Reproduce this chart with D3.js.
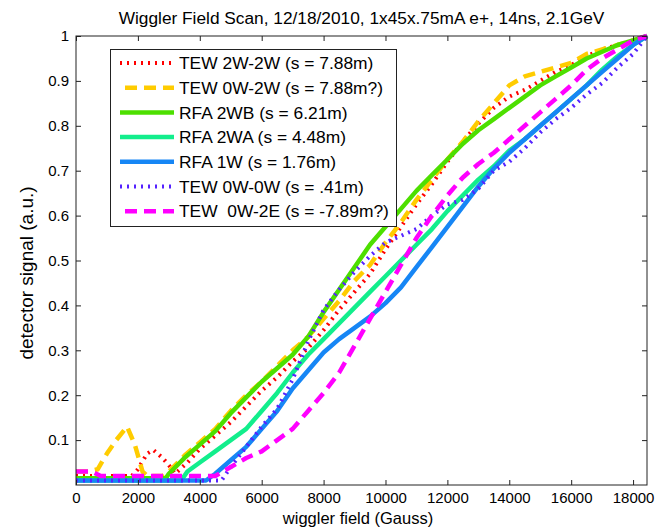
<!DOCTYPE html>
<html>
<head>
<meta charset="utf-8">
<script src="https://cdn.jsdelivr.net/npm/d3@7"></script>
<style>
  body { margin: 0; background: #fff; }
  text { font-family: "Liberation Sans", Arial, sans-serif; fill: #000; }
</style>
</head>
<body>
<div id="chart"></div>
<script>
// wiggler scan curves, field in Gauss / normalised detector signal
const tew2w2wField = [0, 500, 1000, 1500, 1800, 2000, 2300, 2500, 2800, 3050, 3200, 3600, 4000, 4500, 5000, 5500, 6000, 6500, 7000, 7500, 8000, 8500, 9000, 9500, 10000, 10500, 11000, 11500, 12000, 12500, 13000, 13500, 14000, 14500, 15000, 15500, 16000, 16500, 17000, 17500, 18000, 18450];
const tew2w2wSignal = [0.02, 0.02, 0.02, 0.02, 0.02, 0.035, 0.07, 0.078, 0.06, 0.04, 0.025, 0.05, 0.08, 0.11, 0.14, 0.175, 0.21, 0.24, 0.275, 0.305, 0.345, 0.39, 0.43, 0.47, 0.525, 0.575, 0.625, 0.67, 0.72, 0.765, 0.805, 0.84, 0.865, 0.88, 0.9, 0.92, 0.935, 0.955, 0.97, 0.98, 0.99, 1];

const tew0w2wField = [0, 400, 700, 1000, 1300, 1650, 1900, 2150, 2300, 2800, 3000, 3500, 4000, 4500, 5000, 5500, 6000, 6500, 7000, 7500, 8000, 8500, 9000, 9500, 10000, 10500, 11000, 11500, 12000, 12500, 13000, 13500, 14000, 14500, 15000, 15500, 16000, 16500, 17000, 17500, 18000, 18450];
const tew0w2wSignal = [0.03, 0.03, 0.035, 0.07, 0.1, 0.13, 0.09, 0.03, 0.02, 0.02, 0.03, 0.065, 0.095, 0.125, 0.165, 0.2, 0.23, 0.265, 0.3, 0.33, 0.37, 0.41, 0.455, 0.49, 0.54, 0.585, 0.635, 0.68, 0.725, 0.765, 0.81, 0.85, 0.89, 0.91, 0.92, 0.93, 0.94, 0.96, 0.97, 0.98, 0.99, 1];

const rfa2wbField = [0, 1000, 2000, 2900, 3000, 3500, 4000, 4500, 5000, 5500, 6000, 6500, 7000, 7500, 8000, 8500, 9000, 9500, 10000, 10500, 11000, 11500, 12000, 12500, 13000, 13500, 14000, 14500, 15000, 15500, 16000, 16500, 17000, 17500, 18000, 18450];
const rfa2wbSignal = [0.015, 0.015, 0.015, 0.015, 0.025, 0.06, 0.09, 0.12, 0.16, 0.195, 0.23, 0.26, 0.29, 0.33, 0.385, 0.435, 0.485, 0.535, 0.575, 0.615, 0.655, 0.69, 0.725, 0.76, 0.79, 0.815, 0.84, 0.865, 0.89, 0.91, 0.93, 0.95, 0.965, 0.98, 0.99, 1];

const rfa2waField = [0, 1000, 2000, 3000, 3400, 3600, 4000, 4500, 5000, 5500, 6000, 6500, 7000, 7500, 8000, 8500, 9000, 9500, 10000, 10500, 11000, 11500, 12000, 12500, 13000, 13500, 14000, 14500, 15000, 15500, 16000, 16500, 17000, 17500, 18000, 18450];
const rfa2waSignal = [0.01, 0.01, 0.01, 0.01, 0.01, 0.03, 0.05, 0.075, 0.1, 0.125, 0.165, 0.205, 0.25, 0.29, 0.325, 0.36, 0.395, 0.43, 0.465, 0.5, 0.535, 0.57, 0.61, 0.645, 0.68, 0.71, 0.745, 0.77, 0.8, 0.83, 0.86, 0.89, 0.925, 0.955, 0.98, 1];

const rfa1wField = [0, 1000, 2000, 3000, 4000, 4200, 4500, 5000, 5500, 6000, 6500, 7000, 7500, 8000, 8500, 9000, 9500, 10000, 10500, 11000, 11500, 12000, 12500, 13000, 13500, 14000, 14500, 15000, 15500, 16000, 16500, 17000, 17500, 18000, 18450];
const rfa1wSignal = [0.01, 0.01, 0.01, 0.01, 0.01, 0.01, 0.025, 0.055, 0.085, 0.125, 0.165, 0.215, 0.255, 0.295, 0.325, 0.35, 0.375, 0.405, 0.44, 0.485, 0.53, 0.575, 0.62, 0.665, 0.705, 0.74, 0.77, 0.8, 0.83, 0.86, 0.89, 0.92, 0.95, 0.98, 1];

const tew0w0wField = [0, 1000, 2000, 3000, 4000, 4700, 5000, 5500, 6000, 6500, 7000, 7500, 8000, 8500, 9000, 9500, 10000, 10500, 11000, 11500, 12000, 12500, 13000, 13500, 14000, 14500, 15000, 15500, 16000, 16500, 17000, 17500, 18000, 18450];
const tew0w0wSignal = [0.01, 0.01, 0.01, 0.01, 0.01, 0.01, 0.04, 0.085, 0.13, 0.17, 0.235, 0.32, 0.39, 0.435, 0.475, 0.51, 0.54, 0.555, 0.57, 0.6, 0.625, 0.635, 0.66, 0.7, 0.72, 0.75, 0.785, 0.815, 0.84, 0.87, 0.895, 0.93, 0.96, 1];

const tew0w2eField = [0, 500, 800, 1000, 2000, 3000, 4000, 4500, 5000, 5500, 6000, 6500, 7000, 7500, 8000, 8500, 9000, 9500, 10000, 10500, 11000, 11500, 12000, 12500, 13000, 13500, 14000, 14500, 15000, 15500, 16000, 16500, 17000, 17500, 18000, 18450];
const tew0w2eSignal = [0.03, 0.03, 0.02, 0.02, 0.02, 0.02, 0.02, 0.02, 0.04, 0.06, 0.075, 0.1, 0.125, 0.165, 0.205, 0.25, 0.31, 0.37, 0.43, 0.49, 0.55, 0.6, 0.645, 0.685, 0.715, 0.74, 0.77, 0.8, 0.83, 0.86, 0.89, 0.925, 0.95, 0.97, 0.99, 1];

const seriesNames = ["TEW 2W-2W (s = 7.88m)", "TEW 0W-2W (s = 7.88m?)", "RFA 2WB (s = 6.21m)", "RFA 2WA (s = 4.48m)", "RFA 1W (s = 1.76m)", "TEW 0W-0W (s = .41m)", "TEW  0W-2E (s = -7.89m?)"];
const xTicks = [0, 2000, 4000, 6000, 8000, 10000, 12000, 14000, 16000, 18000];
const yTicks = [0.1, 0.2, 0.3, 0.4, 0.5, 0.6, 0.7, 0.8, 0.9, 1];

const height = 532,
    width = 658,
    margin = ({top: 36, right: 11, bottom: 47, left: 76});

// matlab-ish line specs: r: , y-- , g- , etc.
const series = [
    {field: tew2w2wField, signal: tew2w2wSignal, color: "#ff0000", dash: "2,5", w: 4},
    {field: tew0w2wField, signal: tew0w2wSignal, color: "#ffcc00", dash: "12,7", w: 4.5},
    {field: rfa2wbField, signal: rfa2wbSignal, color: "#4ddf00", dash: null, w: 4.5},
    {field: rfa2waField, signal: rfa2waSignal, color: "#12ee8c", dash: null, w: 4.5},
    {field: rfa1wField, signal: rfa1wSignal, color: "#1686f5", dash: null, w: 4.5},
    {field: tew0w0wField, signal: tew0w0wSignal, color: "#5522ff", dash: "2,5", w: 4},
    {field: tew0w2eField, signal: tew0w2eSignal, color: "#ff00ff", dash: "12,7", w: 4.5}
].map((s, i) => ({...s, name: seriesNames[i], points: s.field.map((f, j) => [f, s.signal[j]])}));

let svg = d3.select("#chart").append("svg")
    .attr("width", width)
    .attr("height", height)
    .attr("viewBox", [0, 0, width, height]);

let x = d3.scaleLinear()
    .domain([0, 18450])
    .range([margin.left, width - margin.right]);

let y = d3.scaleLinear()
    .domain([0, 1])
    .range([height - margin.bottom, margin.top]);

const xAxis = g => g
    .attr("transform", `translate(0, ${height - margin.bottom})`)
    .call(d3.axisBottom(x).tickValues(xTicks).tickFormat(d3.format("d")).tickSizeInner(-5).tickSizeOuter(0).tickPadding(7))
    .call(g => g.select(".domain").remove());

const yAxis = g => g
    .attr("transform", `translate(${margin.left}, 0)`)
    .call(d3.axisLeft(y).tickValues(yTicks).tickFormat(d => String(+d.toFixed(1))).tickSizeInner(-5).tickSizeOuter(0).tickPadding(7))
    .call(g => g.select(".domain").remove());

// mirrored ticks on top and right, no labels
const xAxisTop = g => g
    .attr("transform", `translate(0, ${margin.top})`)
    .call(d3.axisTop(x).tickValues(xTicks).tickFormat("").tickSizeInner(-5).tickSizeOuter(0))
    .call(g => g.select(".domain").remove());

const yAxisRight = g => g
    .attr("transform", `translate(${width - margin.right}, 0)`)
    .call(d3.axisRight(y).tickValues(yTicks).tickFormat("").tickSizeInner(-5).tickSizeOuter(0))
    .call(g => g.select(".domain").remove());

svg.append("rect")
    .attr("width", width)
    .attr("height", height)
    .attr("fill", "#fff");

let line = d3.line()
    .x(d => x(d[0]))
    .y(d => y(d[1]));

svg.append("g")
    .selectAll("path")
    .data(series)
    .join("path")
    .attr("fill", "none")
    .attr("stroke", d => d.color)
    .attr("stroke-width", d => d.w)
    .attr("stroke-dasharray", d => d.dash)
    .attr("stroke-linejoin", "round")
    .attr("d", d => line(d.points));

// axes box
svg.append("rect")
    .attr("x", margin.left)
    .attr("y", margin.top)
    .attr("width", width - margin.left - margin.right)
    .attr("height", height - margin.top - margin.bottom)
    .attr("fill", "none")
    .attr("stroke", "#222");

svg.append("g").call(xAxis);
svg.append("g").call(yAxis);
svg.append("g").call(xAxisTop);
svg.append("g").call(yAxisRight);

svg.selectAll(".tick line").attr("stroke", "#222");
svg.selectAll(".tick text")
    .attr("font-size", 15)
    .attr("font-family", "Liberation Sans, Arial, sans-serif")
    .attr("fill", "#000");

svg.append("text")
    .attr("x", (margin.left + width - margin.right) / 2)
    .attr("y", 24)
    .attr("text-anchor", "middle")
    .attr("font-size", 17.3)
    .text("Wiggler Field Scan, 12/18/2010, 1x45x.75mA e+, 14ns, 2.1GeV");

svg.append("text")
    .attr("x", 358)
    .attr("y", 524)
    .attr("text-anchor", "middle")
    .attr("font-size", 16.5)
    .text("wiggler field (Gauss)");

svg.append("text")
    .attr("transform", "translate(33, 273) rotate(-90)")
    .attr("text-anchor", "middle")
    .attr("font-size", 19)
    .text("detector signal (a.u.)");

// legend
let legend = svg.append("g");

legend.append("rect")
    .attr("x", 110.5)
    .attr("y", 49.5)
    .attr("width", 286)
    .attr("height", 177)
    .attr("fill", "#fff")
    .attr("stroke", "#222");

let item = legend.selectAll(".item")
    .data(series)
    .join("g")
    .attr("class", "item")
    .attr("transform", (d, i) => `translate(0, ${63 + i * 24.7})`);

item.append("line")
    .attr("x1", d => d.dash && d.dash.startsWith("12") ? 125 : 120)
    .attr("x2", 174)
    .attr("stroke", d => d.color)
    .attr("stroke-width", d => d.w)
    .attr("stroke-dasharray", d => d.dash);

item.append("text")
    .attr("x", 179)
    .attr("dy", "0.36em")
    .attr("font-size", 17.4)
    .style("white-space", "pre")
    .text(d => d.name);
</script>
</body>
</html>
